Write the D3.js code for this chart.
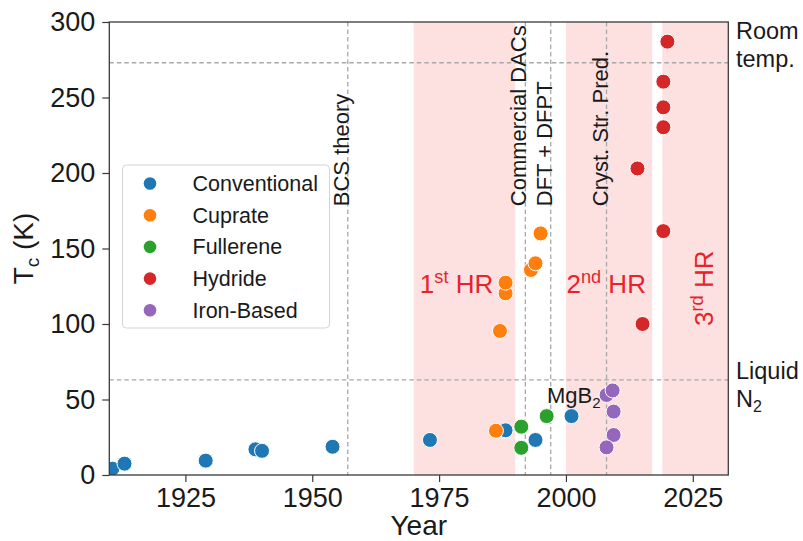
<!DOCTYPE html>
<html>
<head>
<meta charset="utf-8">
<script src="https://cdn.jsdelivr.net/npm/d3@7"></script>
<style>
  body { margin: 0; background: #fff; }
  svg { display: block; }
  text { font-family: "Liberation Sans", Arial, Helvetica, sans-serif; fill: #1a1a1a; }
</style>
</head>
<body>
<svg id="chart" width="803" height="541"></svg>
<script>
// Superconductor families and their critical temperatures by year of discovery
const categories = ["Conventional", "Cuprate", "Fullerene", "Hydride", "Iron-Based"];
const categoryColors = ["#1f77b4", "#ff7f0e", "#2ca02c", "#d62728", "#9467bd"];

const conventionalYears = [1910.6, 1913, 1929, 1938.8, 1940.1, 1954, 1973.2, 1988.1, 1994, 2001.1];
const conventionalTc    = [4.2, 7.5, 9.5, 17, 16, 18.7, 23.2, 29.6, 23.2, 39];

const cuprateYears = [1986.2, 1987, 1988.1, 1988.1, 1993.1, 1994, 1995];
const cuprateTc    = [29.3, 95.4, 120.3, 127.4, 135.8, 140.2, 160];

const fullereneYears = [1991.2, 1991.2, 1996.2];
const fullereneTc    = [32, 18, 39];

const hydrideYears = [2014.1, 2015.1, 2019.2, 2019.2, 2019.2, 2019.2, 2020];
const hydrideTc    = [203, 100, 161.5, 230.3, 243.5, 260.5, 287];

const ironYears = [2008, 2009.2, 2009.4, 2009.4, 2008];
const ironTc    = [53, 56, 42, 26.5, 18.3];

// "Hot" research periods (shaded spans)
const hrStart  = [1970, 2000, 2019];
const hrEnd    = [1990, 2017, 2032];

// Milestones drawn as vertical dashed lines
const eventYears  = [1957, 1992, 1997, 2008];
const eventLabels = ["BCS theory", "Commercial DACs", "DFT + DFPT", "Cryst. Str. Pred."];

// Reference temperatures drawn as horizontal dashed lines
const refTemps = [273, 63];

// Axis ticks
const xTicks = [1925, 1950, 1975, 2000, 2025];
const yTicks = [0, 50, 100, 150, 200, 250, 300];

const seriesYears = [conventionalYears, cuprateYears, fullereneYears, hydrideYears, ironYears];
const seriesTc    = [conventionalTc, cuprateTc, fullereneTc, hydrideTc, ironTc];

const points = [];
categories.forEach((c, i) => {
  seriesYears[i].forEach((yr, j) => points.push({ cat: i, year: yr, tc: seriesTc[i][j] }));
});

const svg = d3.select("#chart");
const plot = { left: 109.3, right: 728.3, top: 22, bottom: 475 };

const x = d3.scaleLinear().domain([1910, 2032]).range([plot.left, plot.right]);
const y = d3.scaleLinear().domain([0, 300]).range([plot.bottom, plot.top]);

svg.append("defs").append("clipPath").attr("id", "plotClip")
  .append("rect")
  .attr("x", plot.left).attr("y", plot.top)
  .attr("width", plot.right - plot.left).attr("height", plot.bottom - plot.top);

const body = svg.append("g").attr("clip-path", "url(#plotClip)");

// shaded periods
body.selectAll("rect.span").data(hrStart).join("rect")
  .attr("class", "span")
  .attr("x", d => x(d))
  .attr("width", (d, i) => x(hrEnd[i]) - x(d))
  .attr("y", plot.top).attr("height", plot.bottom - plot.top)
  .attr("fill", "#fde1e1");

// reference lines
const dashStyle = sel => sel.attr("stroke", "#a8a8a8").attr("stroke-width", 1.3).attr("stroke-dasharray", "4.5,3");
body.selectAll("line.ref").data(refTemps).join("line")
  .attr("class", "ref")
  .attr("x1", plot.left).attr("x2", plot.right)
  .attr("y1", d => y(d)).attr("y2", d => y(d))
  .call(dashStyle);
body.selectAll("line.event").data(eventYears).join("line")
  .attr("class", "event")
  .attr("x1", d => x(d)).attr("x2", d => x(d))
  .attr("y1", plot.top).attr("y2", plot.bottom)
  .call(dashStyle);

// milestone labels, reading upwards next to their lines
svg.selectAll("text.event").data(eventYears).join("text")
  .attr("class", "event")
  .attr("transform", d => `translate(${x(d) + 1},${y(178)}) rotate(-90)`)
  .attr("font-size", 22)
  .text((d, i) => eventLabels[i]);

// period labels
const hrLabel = (g, num, sup, fs) => {
  g.append("tspan").text(num);
  g.append("tspan").attr("font-size", fs * 0.7).attr("dy", -fs * 0.38).text(sup);
  g.append("tspan").attr("dy", fs * 0.38).text(" HR");
};
const hrColor = "#e8232b";
const hrFont = 26;
svg.append("text").attr("x", x(1971.2)).attr("y", y(120.5))
  .attr("font-size", hrFont).style("fill", hrColor)
  .call(g => hrLabel(g, "1", "st", hrFont));
svg.append("text").attr("x", x(2000.1)).attr("y", y(120.5))
  .attr("font-size", hrFont).style("fill", hrColor)
  .call(g => hrLabel(g, "2", "nd", hrFont));
svg.append("text").attr("transform", `translate(${x(2029)},${y(98.7)}) rotate(-90)`)
  .attr("font-size", hrFont).style("fill", hrColor)
  .call(g => hrLabel(g, "3", "rd", hrFont));

// data points
body.selectAll("circle.pt").data(points).join("circle")
  .attr("class", "pt")
  .attr("cx", d => x(d.year)).attr("cy", d => y(d.tc))
  .attr("r", 7.5)
  .attr("fill", d => categoryColors[d.cat])
  .attr("stroke", "#fff").attr("stroke-width", 1);

// MgB2 label
const mg = svg.append("text").attr("x", x(2001.1) - 24.5).attr("y", y(47.5)).attr("font-size", 22);
mg.append("tspan").text("MgB");
mg.append("tspan").attr("font-size", 15).attr("dy", 5).text("2");

// frame
svg.append("rect")
  .attr("x", plot.left).attr("y", plot.top)
  .attr("width", plot.right - plot.left).attr("height", plot.bottom - plot.top)
  .attr("fill", "none").attr("stroke", "#3a3a3a").attr("stroke-width", 1.3);

// axes
const xAxis = d3.axisBottom(x).tickValues(xTicks).tickFormat(d3.format("d")).tickSize(7).tickPadding(6);
const yAxis = d3.axisLeft(y).tickValues(yTicks).tickSize(7).tickPadding(7);
const gx = svg.append("g").attr("transform", `translate(0,${plot.bottom})`).call(xAxis);
const gy = svg.append("g").attr("transform", `translate(${plot.left},0)`).call(yAxis);
[gx, gy].forEach(g => {
  g.select(".domain").remove();
  g.selectAll(".tick line").attr("stroke", "#3a3a3a").attr("stroke-width", 1.2);
  g.selectAll(".tick text").attr("font-size", 27).attr("font-family", null).style("fill", "#1a1a1a");
});

// axis titles
svg.append("text").attr("x", (plot.left + plot.right) / 2).attr("y", 535)
  .attr("text-anchor", "middle").attr("font-size", 28).text("Year");
const yl = svg.append("text").attr("transform", `translate(33,${(plot.top + plot.bottom) / 2}) rotate(-90)`)
  .attr("text-anchor", "middle").attr("font-size", 28);
yl.append("tspan").text("T");
yl.append("tspan").attr("font-size", 19).attr("dy", 6).text("c");
yl.append("tspan").attr("dy", -6).text(" (K)");

// reference labels on the right
const rightLab = (lines, yBase) => {
  lines.forEach((l, i) => {
    const t = svg.append("text").attr("x", 736).attr("y", yBase + i * 28).attr("font-size", 23.5);
    l.forEach(part => {
      const s = t.append("tspan").text(part.t);
      if (part.sub) s.attr("font-size", 16).attr("dy", 5);
    });
  });
};
rightLab([[{ t: "Room" }], [{ t: "temp." }]], 38.5);
rightLab([[{ t: "Liquid" }], [{ t: "N" }, { t: "2", sub: true }]], 378.5);

// legend
const lg = svg.append("g").attr("transform", "translate(122.5,165)");
lg.append("rect").attr("width", 207).attr("height", 163).attr("rx", 4)
  .attr("fill", "#fff").attr("fill-opacity", 0.85)
  .attr("stroke", "#d4d4d4").attr("stroke-width", 1);
const rows = lg.selectAll("g.row").data(categories).join("g")
  .attr("class", "row")
  .attr("transform", (d, i) => `translate(0,${18.5 + i * 31.7})`);
rows.append("circle").attr("cx", 27.5).attr("r", 6.3).attr("fill", (d, i) => categoryColors[i]);
rows.append("text").attr("x", 70).attr("y", 7.5).attr("font-size", 21.5).text(d => d);
</script>
</body>
</html>
